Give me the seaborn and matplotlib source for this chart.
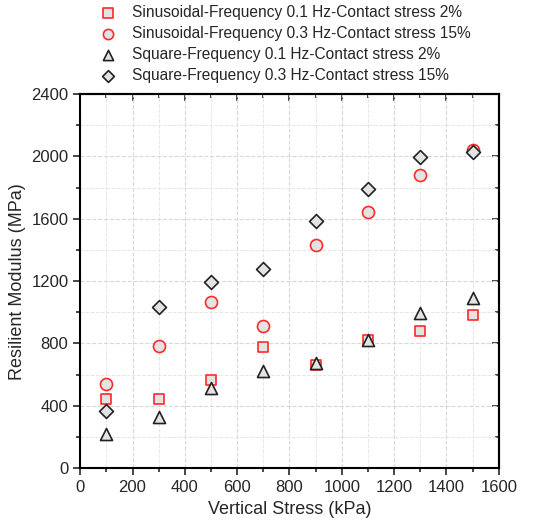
import matplotlib
matplotlib.use("Agg")
import matplotlib.pyplot as plt
import pandas as pd
import seaborn as sns
from matplotlib.ticker import MultipleLocator

# Data
stress = [100, 300, 500, 700, 900, 1100, 1300, 1500]
sin_01_2 = [447, 447, 565, 780, 665, 820, 880, 985]
sin_03_15 = [540, 785, 1065, 915, 1430, 1645, 1880, 2040]
sq_01_2 = [220, 330, 515, 625, 675, 820, 995, 1095]
sq_03_15 = [370, 1035, 1195, 1280, 1585, 1790, 1995, 2030]

labels = [
    "Sinusoidal-Frequency 0.1 Hz-Contact stress 2%",
    "Sinusoidal-Frequency 0.3 Hz-Contact stress 15%",
    "Square-Frequency 0.1 Hz-Contact stress 2%",
    "Square-Frequency 0.3 Hz-Contact stress 15%",
]
series = [sin_01_2, sin_03_15, sq_01_2, sq_03_15]

df = pd.concat(
    [pd.DataFrame({"stress": stress, "modulus": s, "group": lab}) for lab, s in zip(labels, series)],
    ignore_index=True,
)

sns.set_theme(style="ticks")
plt.rcParams["font.family"] = ["Liberation Sans", "DejaVu Sans"]

fig, ax = plt.subplots(figsize=(5.53, 5.29), dpi=100)
fig.subplots_adjust(left=0.145, right=0.902, bottom=0.115, top=0.822)

markers = {labels[0]: "s", labels[1]: "o", labels[2]: "^", labels[3]: "D"}
edges = ["#ff2a2a", "#ff2a2a", "#222222", "#222222"]
sizes = [60, 75, 75, 50]

for lab, ec, sz in zip(labels, edges, sizes):
    sns.scatterplot(
        data=df[df["group"] == lab], x="stress", y="modulus", ax=ax,
        marker=markers[lab], s=sz, color="#e3e3e3", edgecolor=ec,
        linewidth=1.2, label=lab, zorder=3,
    )

ax.set_xlim(0, 1600)
ax.set_ylim(0, 2400)
ax.xaxis.set_major_locator(MultipleLocator(200))
ax.xaxis.set_minor_locator(MultipleLocator(100))
ax.yaxis.set_major_locator(MultipleLocator(400))
ax.yaxis.set_minor_locator(MultipleLocator(200))

ax.grid(which="major", linestyle="--", color="#d8d8d8", linewidth=0.8)
ax.grid(which="minor", linestyle="--", color="#e6e6e6", linewidth=0.7)
ax.set_axisbelow(True)

for sp in ax.spines.values():
    sp.set_linewidth(1.5)
    sp.set_color("black")

ax.tick_params(which="both", direction="out", width=1.2, labelsize=12, top=False, right=False)
ax.tick_params(which="major", length=5)
ax.tick_params(which="minor", length=3)

# inward ticks on the top and right edges
sec = ax.secondary_xaxis("top")
sec.xaxis.set_major_locator(MultipleLocator(200))
sec.xaxis.set_minor_locator(MultipleLocator(100))
sec.tick_params(which="both", direction="in", width=1.2, labeltop=False)
sec.tick_params(which="major", length=5)
sec.tick_params(which="minor", length=3)
sec.spines["top"].set_linewidth(1.5)
secy = ax.secondary_yaxis("right")
secy.yaxis.set_major_locator(MultipleLocator(400))
secy.yaxis.set_minor_locator(MultipleLocator(200))
secy.tick_params(which="both", direction="in", width=1.2, labelright=False)
secy.tick_params(which="major", length=5)
secy.tick_params(which="minor", length=3)
secy.spines["right"].set_linewidth(1.5)

ax.set_xlabel("Vertical Stress (kPa)", fontsize=13)
ax.set_ylabel("Resilient Modulus (MPa)", fontsize=13)

leg = ax.legend(
    loc="lower left", bbox_to_anchor=(0.015, 1.013), frameon=False,
    fontsize=11.2, handletextpad=0.55, labelspacing=0.38, borderaxespad=0,
    markerscale=0.85,
)

fig.savefig("out.png", dpi=100)
